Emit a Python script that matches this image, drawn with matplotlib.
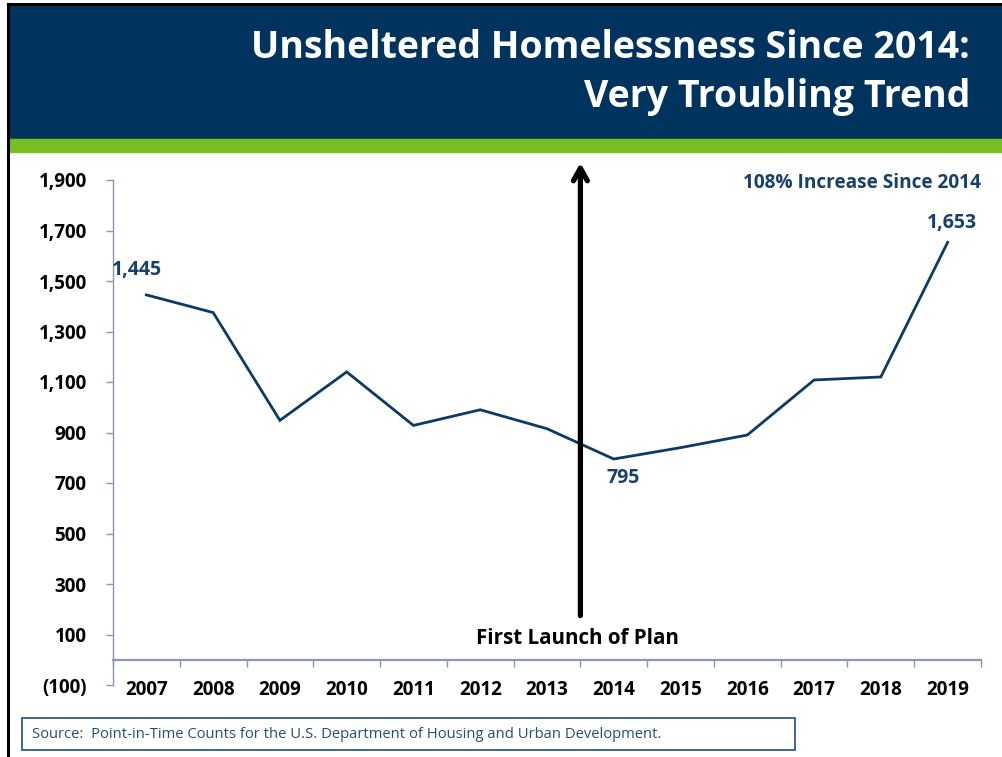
import matplotlib
matplotlib.use("Agg")
import matplotlib.pyplot as plt
from matplotlib.patches import Rectangle
from matplotlib.ticker import FuncFormatter, FixedLocator

years = ["2007", "2008", "2009", "2010", "2011", "2012", "2013",
         "2014", "2015", "2016", "2017", "2018", "2019"]
values = [1445, 1375, 948, 1140, 928, 990, 915, 795, 840, 890, 1108, 1120, 1653]
yticks = [-100, 100, 300, 500, 700, 900, 1100, 1300, 1500, 1700, 1900]
title_lines = ["Unsheltered Homelessness Since 2014:", "Very Troubling Trend"]
source_text = "Source:  Point-in-Time Counts for the U.S. Department of Housing and Urban Development."

W, H = 1003, 757
fig = plt.figure(figsize=(W / 100, H / 100), dpi=100)
plt.rcParams['font.family'] = ['Open Sans', 'DejaVu Sans']

NAVY = "#00345F"
GREEN = "#78BE20"
LINE = "#0D3A64"
LABEL = "#17406D"
AXC = "#8C97B0"

def fx(px):
    return px / W

def fy(py):
    return 1 - py / H

# banner
fig.patches.append(Rectangle((fx(9), fy(139)), fx(W - 9), (139 - 5) / H,
                             transform=fig.transFigure, color=NAVY, zorder=0))
fig.patches.append(Rectangle((fx(9), fy(152)), fx(W - 9), (152 - 139) / H,
                             transform=fig.transFigure, color=GREEN, zorder=0))
# frame lines (top and left)
fig.add_artist(plt.Line2D([fx(8), 1], [fy(4), fy(4)], transform=fig.transFigure,
                          color="black", lw=2.2))
fig.add_artist(plt.Line2D([fx(8.5), fx(8.5)], [fy(4), 0], transform=fig.transFigure,
                          color="black", lw=2.2))

fig.text(fx(970), fy(48), title_lines[0], color="white", fontsize=27,
         fontweight="bold", ha="right", va="center")
fig.text(fx(970), fy(97), title_lines[1], color="white", fontsize=27,
         fontweight="bold", ha="right", va="center")

# axes
left, right, top, bottom = 113, 981, 180, 685
ax = fig.add_axes([fx(left), fy(bottom), (right - left) / W, (bottom - top) / H])
x = list(range(len(years)))
ax.plot(x, values, color=LINE, lw=2.0, solid_joinstyle="miter", zorder=3)
ax.set_xlim(-0.5, len(years) - 0.5)
ax.set_ylim(min(yticks), max(yticks))

for s in ["top", "right"]:
    ax.spines[s].set_visible(False)
ax.spines["left"].set_color(AXC)
ax.spines["left"].set_linewidth(1.0)
ax.spines["bottom"].set_position(("data", 0))
ax.spines["bottom"].set_color(AXC)
ax.spines["bottom"].set_linewidth(1.6)

ax.set_yticks(yticks)
ax.yaxis.set_major_formatter(FuncFormatter(
    lambda v, p: f"({abs(int(v)):,})" if v < 0 else f"{int(v):,}"))
ax.tick_params(axis="y", direction="out", length=5, width=1, color=AXC,
               pad=14, labelsize=13.5)
for lab in ax.get_yticklabels():
    lab.set_fontweight("bold")

ax.xaxis.set_major_locator(FixedLocator(x))
ax.set_xticklabels(years, fontsize=13.5, fontweight="bold")
ax.tick_params(axis="x", which="major", length=0, pad=14.5)
ax.xaxis.set_minor_locator(FixedLocator([i - 0.5 for i in range(len(years) + 1)]))
ax.tick_params(axis="x", which="minor", direction="out", length=5, width=1, color=AXC)

# data labels
def label(i, dx, dy, **kw):
    ax.annotate(f"{values[i]:,}", (x[i], values[i]), xytext=(dx, dy),
                textcoords="offset points", color=LABEL, fontsize=14,
                fontweight="bold", ha="center", va="center", **kw)

label(0, -7, 18)
label(7, 7, -14)
label(len(years) - 1, 3, 14)

ax.text(1.0, 0.995, "108% Increase Since 2014", transform=ax.transAxes,
        ha="right", va="center", color=LABEL, fontsize=13.7, fontweight="bold")

# arrow between 2013 and 2014
ax.annotate("", xy=(6.5, 1968), xytext=(6.5, 175),
            arrowprops=dict(arrowstyle="->, head_length=0.9, head_width=0.5",
                        color="black", lw=3.8, capstyle="round",
                        joinstyle="round", shrinkA=0, shrinkB=0),
            annotation_clip=False, zorder=4)
ax.text(6.45, 85, "First Launch of Plan", ha="center", va="center",
        fontsize=14.8, fontweight="bold", color="black")

# source box
fig.patches.append(Rectangle((fx(22), fy(750)), (795 - 22) / W, (750 - 718) / H,
                             transform=fig.transFigure, fill=False,
                             edgecolor="#1F4E79", lw=1.2))
fig.text(fx(32), fy(734), source_text, fontsize=10.6, color="#1F4E79",
         ha="left", va="center")

fig.savefig("out.png", dpi=100)
